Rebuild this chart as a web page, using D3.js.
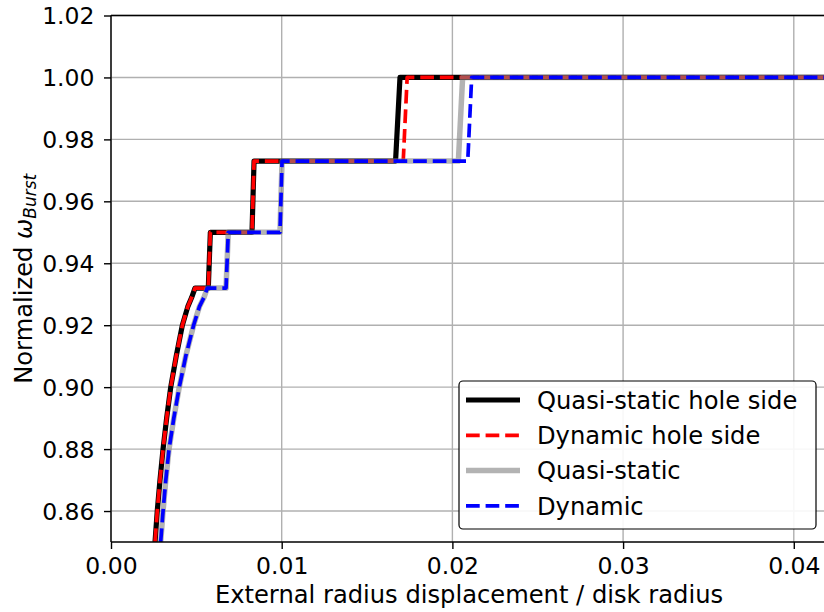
<!DOCTYPE html>
<html>
<head>
<meta charset="utf-8">
<script src="https://cdn.jsdelivr.net/npm/d3@7"></script>
<style>
  body { margin: 0; background: #fff; }
  text { font-family: "DejaVu Sans", sans-serif; fill: #000; }
</style>
</head>
<body>
<div id="chart"></div>
<script>
// data (x = displacement / radius, y = normalized burst speed)
var x_ticks = [0.00, 0.01, 0.02, 0.03, 0.04]
var y_ticks = [0.86, 0.88, 0.90, 0.92, 0.94, 0.96, 0.98, 1.00, 1.02]

var qs_hole_x = [0.00258, 0.00271, 0.00287, 0.00305, 0.00326, 0.00350, 0.00382, 0.00418, 0.00450, 0.00473, 0.00492, 0.00570, 0.00582, 0.00826, 0.00838, 0.01667, 0.01693, 0.0420]
var qs_hole_y = [0.850, 0.860, 0.870, 0.880, 0.890, 0.900, 0.910, 0.920, 0.926, 0.929, 0.932, 0.932, 0.950, 0.950, 0.973, 0.973, 1.000, 1.000]

var dyn_hole_x = [0.00258, 0.00271, 0.00287, 0.00305, 0.00326, 0.00350, 0.00382, 0.00418, 0.00450, 0.00473, 0.00492, 0.00570, 0.00582, 0.00826, 0.00838, 0.01712, 0.01735, 0.0420]
var dyn_hole_y = [0.850, 0.860, 0.870, 0.880, 0.890, 0.900, 0.910, 0.920, 0.926, 0.929, 0.932, 0.932, 0.950, 0.950, 0.973, 0.973, 1.000, 1.000]

var qs_x = [0.00291, 0.00305, 0.00321, 0.00340, 0.00368, 0.00400, 0.00438, 0.00484, 0.00518, 0.00545, 0.00564, 0.00674, 0.00687, 0.00990, 0.01002, 0.02035, 0.02060, 0.0420]
var qs_y = [0.850, 0.860, 0.870, 0.880, 0.890, 0.900, 0.910, 0.920, 0.926, 0.929, 0.932, 0.932, 0.950, 0.950, 0.973, 0.973, 1.000, 1.000]

var dyn_x = [0.00291, 0.00305, 0.00321, 0.00340, 0.00368, 0.00400, 0.00438, 0.00484, 0.00518, 0.00545, 0.00564, 0.00674, 0.00687, 0.00990, 0.01002, 0.02090, 0.02113, 0.0420]
var dyn_y = [0.850, 0.860, 0.870, 0.880, 0.890, 0.900, 0.910, 0.920, 0.926, 0.929, 0.932, 0.932, 0.950, 0.950, 0.973, 0.973, 1.000, 1.000]

var series_names = ["Quasi-static hole side", "Dynamic hole side", "Quasi-static", "Dynamic"]

var width = 824, height = 612
var margin = {top: 15.5, right: 0, bottom: 70, left: 111}

var svg = d3.select("#chart").append("svg")
    .attr("width", width)
    .attr("height", height)

var x_scale = d3.scaleLinear()
    .domain([0, 0.04177])
    .range([margin.left, width - margin.right])

var y_scale = d3.scaleLinear()
    .domain([0.85, 1.02])
    .range([height - margin.bottom, margin.top])

// grid
svg.append("g").selectAll("line").data(x_ticks).enter().append("line")
    .attr("x1", function(d) { return x_scale(d) }).attr("x2", function(d) { return x_scale(d) })
    .attr("y1", y_scale.range()[0]).attr("y2", y_scale.range()[1])
    .style("stroke", "#b0b0b0").style("stroke-width", 1.4)
svg.append("g").selectAll("line").data(y_ticks).enter().append("line")
    .attr("y1", function(d) { return y_scale(d) }).attr("y2", function(d) { return y_scale(d) })
    .attr("x1", x_scale.range()[0]).attr("x2", x_scale.range()[1])
    .style("stroke", "#b0b0b0").style("stroke-width", 1.4)

svg.append("clipPath").attr("id", "plot_clip").append("rect")
    .attr("x", margin.left).attr("y", margin.top)
    .attr("width", width - margin.left - margin.right)
    .attr("height", y_scale.range()[0] - margin.top)

var plot_line = d3.line()
    .x(function(d) { return x_scale(d[0]) })
    .y(function(d) { return y_scale(d[1]) })

function zip(xs, ys) { return xs.map(function(v, i) { return [v, ys[i]] }) }

var series = [
  {data: zip(qs_hole_x, qs_hole_y), color: "#000000", lw: 5.2, dash: null, opacity: 1},
  {data: zip(dyn_hole_x, dyn_hole_y), color: "#ff0000", lw: 3.7, dash: "13.7,5.9", opacity: 1},
  {data: zip(qs_x, qs_y), color: "#808080", lw: 5.5, dash: null, opacity: 0.6},
  {data: zip(dyn_x, dyn_y), color: "#0000ff", lw: 3.7, dash: "13.7,5.9", opacity: 1}
]

var lines_g = svg.append("g").attr("clip-path", "url(#plot_clip)")
series.forEach(function(s) {
  lines_g.append("path")
    .datum(s.data)
    .attr("d", plot_line)
    .style("fill", "none")
    .style("stroke", s.color)
    .style("stroke-width", s.lw)
    .style("stroke-dasharray", s.dash)
    .style("stroke-linejoin", "round")
    .style("stroke-opacity", s.opacity)
})

// spines (no right spine, the figure is cut there)
var x0 = x_scale.range()[0], x1 = x_scale.range()[1]
var y0 = y_scale.range()[0], y1 = y_scale.range()[1]
svg.append("line").attr("x1", x0).attr("x2", x0).attr("y1", y0).attr("y2", y1)
    .style("stroke", "#000").style("stroke-width", 1.4)
svg.append("line").attr("x1", x0).attr("x2", x1).attr("y1", y0).attr("y2", y0)
    .style("stroke", "#000").style("stroke-width", 1.4)
svg.append("line").attr("x1", x0).attr("x2", x1).attr("y1", y1).attr("y2", y1)
    .style("stroke", "#000").style("stroke-width", 1.4)

// axes
var x_axis = d3.axisBottom(x_scale).tickValues(x_ticks).tickFormat(d3.format(".2f"))
    .tickSize(7).tickPadding(6)
var gx = svg.append("g").attr("transform", "translate(0," + y0 + ")").call(x_axis)
gx.select(".domain").remove()
gx.selectAll("line").style("stroke", "#000").style("stroke-width", 1.4)
gx.selectAll("text").style("font-size", "23.5px").attr("y", 31.5).attr("dy", null)

var y_axis = d3.axisLeft(y_scale).tickValues(y_ticks).tickFormat(d3.format(".2f"))
    .tickSize(7).tickPadding(9)
var gy = svg.append("g").attr("transform", "translate(" + x0 + ",0)").call(y_axis)
gy.select(".domain").remove()
gy.selectAll("line").style("stroke", "#000").style("stroke-width", 1.4)
gy.selectAll("text").style("font-size", "23.5px").attr("dy", "0.36em").attr("x", -16.5)

// labels
svg.append("text")
    .attr("x", 469).attr("y", 603)
    .attr("text-anchor", "middle")
    .style("font-size", "24.2px")
    .text("External radius displacement / disk radius")

var ylab = svg.append("text")
    .attr("transform", "translate(32," + ((y0 + y1) / 2) + ") rotate(-90)")
    .attr("text-anchor", "middle")
    .style("font-size", "24.2px")
ylab.append("tspan").text("Normalized ")
ylab.append("tspan").style("font-style", "italic").text("ω")
ylab.append("tspan").style("font-style", "italic").style("font-size", "17px")
    .attr("dy", "4").text("Burst")

// legend
var legend = svg.append("g")
legend.append("rect")
    .attr("x", 459).attr("y", 381).attr("width", 357).attr("height", 148)
    .attr("rx", 4).attr("ry", 4)
    .style("fill", "#fff").style("fill-opacity", 0.9)
    .style("stroke", "#000").style("stroke-width", 1.2)

series_names.forEach(function(name, i) {
  var cy = 400 + i * 35.3
  var s = series[i]
  legend.append("line")
    .attr("x1", 466).attr("x2", 520).attr("y1", cy).attr("y2", cy)
    .style("stroke", s.color)
    .style("stroke-width", s.lw)
    .style("stroke-dasharray", s.dash)
    .style("stroke-opacity", s.opacity)
  legend.append("text")
    .attr("x", 537).attr("y", cy).attr("dy", "0.36em")
    .style("font-size", "24.2px")
    .text(name)
})
</script>
</body>
</html>
